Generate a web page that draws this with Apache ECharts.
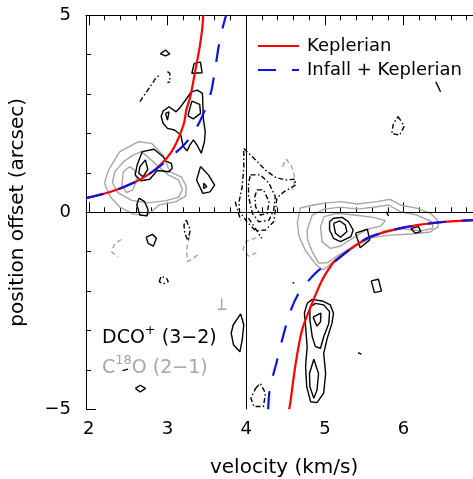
<!DOCTYPE html>
<html>
<head>
<meta charset="utf-8">
<script src="https://cdn.jsdelivr.net/npm/echarts@6/dist/echarts.min.js"></script>
<style>
  html, body { margin: 0; padding: 0; background: #fff; }
  #chart { width: 473px; height: 479px; }
</style>
</head>
<body>
<div id="chart"></div>
<script>
// Position-velocity diagram: DCO+ (3-2) and C18O (2-1) contours with
// Keplerian and infall + Keplerian rotation curves.

const velMin = 1.965, velMax = 7.0;
const tickVelMin = 2, tickVelMax = 7;
const offMin = -5, offMax = 5;
const PX_PER_KMS = 78.7;

// Rotation curves: [velocity km/s, offset arcsec]
const keplerUpper = [[1.965,0.36],[2.28,0.52],[2.57,0.75],[2.78,0.99],[2.91,1.20],[3.04,1.50],[3.12,1.79],[3.21,2.26],[3.24,2.60],[3.29,2.93],[3.355,3.61],[3.41,4.20],[3.44,4.63],[3.455,5.0]];
const keplerLower = [[4.546,-5.0],[4.56,-4.85],[4.63,-3.83],[4.71,-2.99],[4.82,-2.40],[4.966,-1.72],[5.105,-1.28],[5.155,-1.20],[5.32,-0.94],[5.57,-0.63],[5.995,-0.39],[6.42,-0.26],[6.895,-0.195],[7.0,-0.185]];
const infallUpper = [[1.965,0.36],[2.28,0.52],[2.57,0.75],[2.78,0.99],[2.87,1.12],[3.02,1.37],[3.19,1.67],[3.31,1.96],[3.41,2.30],[3.48,2.62],[3.555,3.06],[3.59,3.44],[3.62,3.82],[3.65,4.20],[3.695,4.63],[3.745,5.0]];
const infallLower = [[4.28,-5.0],[4.30,-4.49],[4.385,-3.82],[4.47,-3.14],[4.555,-2.55],[4.66,-2.08],[4.79,-1.74],[4.935,-1.45],[5.06,-1.31],[5.155,-1.20],[5.32,-0.94],[5.57,-0.63],[5.995,-0.39],[6.42,-0.26],[6.895,-0.195],[7.0,-0.185]];

// DCO+ positive contours (closed)
const dcoPos = [
  [[2.68,1.54],[2.83,1.60],[2.945,1.41],[2.98,1.30],[3.05,1.24],[3.06,1.12],[3.02,1.03],[2.87,1.06],[2.775,0.84],[2.66,0.80],[2.59,0.95],[2.615,1.20]],
  [[2.65,1.16],[2.72,1.33],[2.75,1.09],[2.69,0.90],[2.635,0.99]],
  [[2.945,2.57],[3.02,2.68],[3.11,2.55],[3.17,2.68],[3.23,2.85],[3.30,3.05],[3.38,3.10],[3.445,3.02],[3.45,2.72],[3.455,2.39],[3.48,2.05],[3.47,1.79],[3.43,1.50],[3.38,1.69],[3.33,1.84],[3.28,1.69],[3.25,1.56],[3.20,1.67],[3.17,1.96],[3.09,2.09],[3.00,2.13],[2.945,2.26],[2.92,2.43]],
  [[3.26,2.45],[3.31,2.82],[3.41,2.74],[3.42,2.51],[3.33,2.37]],
  [[2.975,2.51],[3.02,2.55],[3.00,2.34]],
  [[3.42,1.16],[3.52,0.95],[3.60,0.69],[3.54,0.52],[3.45,0.48],[3.37,0.82]],
  [[3.46,0.74],[3.50,0.65],[3.46,0.61]],
  [[2.64,0.36],[2.71,0.27],[2.755,0.06],[2.74,-0.09],[2.65,-0.07],[2.61,0.19]],
  [[2.91,4.02],[2.975,4.12],[3.03,4.02],[2.975,3.97]],
  [[3.34,3.78],[3.42,3.81],[3.44,3.54],[3.31,3.53]],
  [[2.73,-0.63],[2.81,-0.56],[2.86,-0.66],[2.82,-0.86],[2.755,-0.79]],
  [[3.93,-2.58],[3.97,-2.86],[3.95,-3.24],[3.92,-3.54],[3.84,-3.37],[3.81,-3.07],[3.835,-2.86]],
  [[5.06,-0.24],[5.11,-0.15],[5.22,-0.13],[5.30,-0.24],[5.36,-0.45],[5.33,-0.62],[5.20,-0.745],[5.11,-0.66],[5.06,-0.45]],
  [[5.11,-0.28],[5.19,-0.22],[5.26,-0.32],[5.28,-0.49],[5.20,-0.635],[5.135,-0.53]],
  [[5.39,-0.53],[5.54,-0.43],[5.57,-0.70],[5.45,-0.90]],
  [[6.09,-0.41],[6.19,-0.365],[6.22,-0.49],[6.15,-0.53]],
  [[5.59,-1.74],[5.68,-1.70],[5.72,-2.0],[5.63,-2.04]],
  [[4.775,-2.31],[4.84,-2.21],[4.965,-2.25],[5.07,-2.35],[5.11,-2.56],[5.09,-2.82],[5.03,-3.20],[4.985,-3.58],[5.01,-4.09],[4.985,-4.59],[4.90,-4.83],[4.82,-4.81],[4.77,-4.43],[4.755,-3.92],[4.775,-3.41],[4.755,-2.90],[4.74,-2.56]],
  [[4.81,-2.41],[4.88,-2.31],[4.985,-2.35],[5.06,-2.52],[5.05,-2.82],[4.985,-3.16],[4.945,-3.45],[4.88,-3.41],[4.84,-3.16],[4.81,-2.73]],
  [[4.86,-3.73],[4.92,-4.09],[4.90,-4.51],[4.86,-4.72],[4.81,-4.43],[4.805,-4.09]],
  [[4.85,-2.66],[4.95,-2.56],[4.945,-2.78],[4.90,-2.89]],
  [[2.593,-4.47],[2.655,-4.39],[2.72,-4.47],[2.655,-4.56]]
];
// DCO+ positive contour fragments (open)
const dcoPosOpen = [
  [[6.41,3.31],[6.47,3.06]],
  [[5.78,0.015],[5.81,-0.09]],
  [[5.42,-3.56],[5.465,-3.60]],
  [[4.59,-1.78],[4.61,-1.80]],
  [[2.43,-4.02],[2.50,-3.98]]
];

// DCO+ negative contours (closed)
const dcoNeg = [
  [[3.97,1.62],[4.12,1.33],[4.245,1.07],[4.37,0.89],[4.50,0.82],[4.62,0.84],[4.63,0.69],[4.48,0.52],[4.39,0.36],[4.37,0.02],[4.35,-0.24],[4.245,-0.45],[4.12,-0.47],[4.01,-0.24],[3.915,0.02],[3.91,0.27],[3.95,0.65],[3.97,1.16]],
  [[4.055,0.95],[4.18,0.95],[4.29,0.74],[4.37,0.40],[4.35,0.06],[4.29,-0.20],[4.16,-0.24],[4.08,-0.03],[4.03,0.40],[4.03,0.74]],
  [[4.14,0.57],[4.22,0.57],[4.29,0.27],[4.27,-0.03],[4.18,-0.07],[4.12,0.14],[4.11,0.40]],
  [[5.93,2.43],[6.01,2.19],[5.95,1.96],[5.85,2.0],[5.87,2.24]],
  [[3.24,-0.195],[3.29,-0.45],[3.26,-0.72],[3.22,-0.53],[3.21,-0.32]],
  [[2.895,-1.76],[2.92,-1.62],[2.99,-1.68],[3.01,-1.76],[2.945,-1.82]],
  [[4.12,-4.47],[4.18,-4.34],[4.245,-4.59],[4.22,-4.93],[4.10,-4.93],[4.06,-4.72]]
];
// DCO+ negative contour fragments (open)
const dcoNegOpen = [
  [[4.03,-0.15],[4.20,-0.66]],
  [[3.86,0.27],[3.93,-0.20]],
  [[3.0,3.57],[3.03,3.53],[3.03,3.31],[3.0,3.29]],
  [[2.65,2.81],[2.75,3.10],[2.85,3.40],[2.89,3.47]]
];

// C18O positive contours (closed)
const c18oPos = [
  [[2.394,1.54],[2.628,1.79],[2.797,1.75],[2.945,1.45],[3.03,1.03],[3.18,0.89],[3.24,0.65],[3.23,0.41],[3.11,0.27],[2.90,0.19],[2.80,0.02],[2.73,-0.09],[2.56,-0.04],[2.39,0.14],[2.27,0.40],[2.20,0.74],[2.25,1.07]],
  [[2.44,1.28],[2.56,1.45],[2.67,1.54],[3.01,0.95],[3.14,0.82],[3.19,0.58],[3.14,0.38],[2.97,0.29],[2.73,0.24],[2.54,0.31],[2.37,0.50],[2.30,0.75],[2.33,1.03]],
  [[2.44,1.03],[2.52,1.16],[2.58,1.07],[2.61,0.82],[2.56,0.57],[2.48,0.50],[2.42,0.69]],
  [[4.65,-0.25],[4.69,0.11],[4.855,0.185],[5.03,0.24],[5.20,0.27],[5.41,0.21],[5.665,0.27],[5.83,0.33],[5.96,0.185],[6.175,0.10],[6.34,-0.025],[6.43,-0.195],[6.44,-0.37],[6.34,-0.50],[6.09,-0.55],[5.83,-0.58],[5.58,-0.65],[5.39,-0.83],[5.20,-1.08],[5.03,-1.39],[4.97,-1.46],[4.88,-1.31],[4.75,-0.96],[4.67,-0.60]],
  [[4.775,-0.45],[4.84,-0.07],[4.99,0.08],[5.20,0.13],[5.41,0.08],[5.665,0.14],[5.81,0.185],[5.96,0.015],[6.17,-0.07],[6.36,-0.24],[6.375,-0.41],[6.215,-0.47],[5.96,-0.41],[5.75,-0.47],[5.54,-0.70],[5.325,-0.91],[5.155,-1.11],[5.03,-1.28],[4.92,-1.29],[4.84,-1.0],[4.78,-0.70]],
  [[4.945,-0.365],[4.99,-0.11],[5.155,-0.025],[5.37,-0.07],[5.62,-0.13],[5.77,-0.21],[5.71,-0.35],[5.54,-0.43],[5.37,-0.635],[5.20,-0.855],[5.07,-0.915],[4.965,-0.745]]
];
// C18O fragments (open)
const c18oPosOpen = [
  [[3.69,-2.18],[3.69,-2.46]],
  [[3.64,-2.46],[3.75,-2.46]]
];
// C18O negative contour fragments (open)
const c18oNegOpen = [
  [[4.46,1.16],[4.51,1.35],[4.58,1.16],[4.62,0.86],[4.59,0.57]],
  [[4.13,-0.65],[4.00,-0.73],[3.96,-0.94],[4.03,-1.11],[4.13,-1.03]],
  [[2.415,-0.69],[2.33,-0.79],[2.29,-1.0],[2.37,-1.13]],
  [[3.28,-0.62],[3.24,-0.96],[3.26,-1.25],[3.39,-1.08]]
];

const xTicks = [2, 3, 4, 5, 6, 7];
const yTicks = [-5, 0, 5];

const FONT = 'DejaVu Sans';
const GREY = '#a6a6a6';
const RED = '#ff0000';
const BLUE = '#0a14e6';

const ring = c => c.concat([c[0]]);

function contourSeries(name, pts, color, dash) {
  return {
    type: 'line', name: name, data: pts, xAxisIndex: 0, yAxisIndex: 0,
    showSymbol: false, symbol: 'none', smooth: false, silent: true,
    lineStyle: { color: color, width: 1.4, type: dash },
    z: 2
  };
}

const series = [];
c18oPos.forEach(c => series.push(contourSeries('C18O', ring(c), GREY, 'solid')));
c18oPosOpen.forEach(c => series.push(contourSeries('C18O', c, GREY, 'solid')));
c18oNegOpen.forEach(c => series.push(contourSeries('C18O neg', c, GREY, [5, 3])));
dcoPos.forEach(c => series.push(contourSeries('DCO+', ring(c), '#000', 'solid')));
dcoPosOpen.forEach(c => series.push(contourSeries('DCO+', c, '#000', 'solid')));
dcoNeg.forEach(c => series.push(contourSeries('DCO+ neg', ring(c), '#000', [5, 2.5, 1.5, 2.5])));
dcoNegOpen.forEach(c => series.push(contourSeries('DCO+ neg', c, '#000', [5, 2.5, 1.5, 2.5])));

// Reference lines at zero offset and systemic velocity
series.push({
  type: 'line', name: 'ref', data: [], xAxisIndex: 0, yAxisIndex: 0, silent: true,
  markLine: {
    silent: true, symbol: ['none', 'none'], label: { show: false },
    lineStyle: { color: '#000', width: 1, type: 'solid' },
    emphasis: { disabled: true },
    data: [{ yAxis: 0 }, { xAxis: 4 }]
  }
});

const redStyle = { color: RED, width: 2.2, type: 'solid' };
const blueStyle = { color: BLUE, width: 2.2, type: [18, 16] };
[keplerUpper, keplerLower].forEach(d => series.push({
  type: 'line', name: 'Keplerian', data: d, showSymbol: false, symbol: 'none',
  smooth: 0.3, lineStyle: redStyle, itemStyle: { color: RED }, z: 5, silent: true
}));
[infallUpper, infallLower].forEach(d => series.push({
  type: 'line', name: 'Infall + Keplerian', data: d, showSymbol: false, symbol: 'none',
  smooth: 0.3, lineStyle: blueStyle, itemStyle: { color: BLUE }, z: 6, silent: true
}));

const tickFont = { fontFamily: FONT, fontSize: 18, color: '#000' };
const plotTop = 15.3, plotHeight = 394, plotLeft = 86;

const option = {
  animation: false,
  backgroundColor: '#fff',
  grid: [
    { left: plotLeft, top: plotTop, width: (velMax - velMin) * PX_PER_KMS, height: plotHeight,
      outerBoundsMode: 'none', containLabel: false },
    { left: plotLeft + (tickVelMin - velMin) * PX_PER_KMS, top: plotTop,
      width: (tickVelMax - tickVelMin) * PX_PER_KMS, height: plotHeight,
      outerBoundsMode: 'none', containLabel: false }
  ],
  legend: {
    data: ['Keplerian', 'Infall + Keplerian'],
    orient: 'vertical', left: 257, top: 36, padding: 0,
    itemWidth: 41, itemHeight: 14, itemGap: 4,
    itemStyle: { opacity: 0 },
    textStyle: { fontFamily: FONT, fontSize: 18, color: '#000', lineHeight: 20, padding: [0, 0, 0, 3] },
    selectedMode: false
  },
  xAxis: [
    { type: 'value', gridIndex: 0, min: velMin, max: velMax, position: 'bottom',
      axisLine: { show: true, lineStyle: { color: '#000', width: 1 } },
      axisTick: { show: false }, axisLabel: { show: false }, splitLine: { show: false },
      name: 'velocity (km/s)', nameLocation: 'middle', nameGap: 48,
      nameTextStyle: { fontFamily: FONT, fontSize: 20, color: '#000' } },
    { type: 'value', gridIndex: 0, min: velMin, max: velMax, position: 'top',
      axisLine: { show: true, lineStyle: { color: '#000', width: 1 } },
      axisTick: { show: false }, axisLabel: { show: false }, splitLine: { show: false } },
    { type: 'value', gridIndex: 1, min: tickVelMin, max: tickVelMax, interval: 1, position: 'bottom',
      axisLine: { show: false },
      axisTick: { show: true, inside: true, length: 10, lineStyle: { color: '#000', width: 1 } },
      minorTick: { show: true, splitNumber: 5, length: 5, lineStyle: { color: '#000', width: 1 } },
      axisLabel: Object.assign({ show: true, margin: 11,
        formatter: v => xTicks.indexOf(v) >= 0 ? String(v) : '' }, tickFont),
      splitLine: { show: false } },
    { type: 'value', gridIndex: 1, min: tickVelMin, max: tickVelMax, interval: 1, position: 'top',
      axisLine: { show: false },
      axisTick: { show: true, inside: true, length: 10, lineStyle: { color: '#000', width: 1 } },
      minorTick: { show: true, splitNumber: 5, length: 5, lineStyle: { color: '#000', width: 1 } },
      axisLabel: { show: false }, splitLine: { show: false } }
  ],
  yAxis: [
    { type: 'value', gridIndex: 0, min: offMin, max: offMax, interval: 5, position: 'left',
      axisLine: { show: true, lineStyle: { color: '#000', width: 1 } },
      axisTick: { show: true, inside: true, length: 10, lineStyle: { color: '#000', width: 1 } },
      minorTick: { show: true, splitNumber: 5, length: 5, lineStyle: { color: '#000', width: 1 } },
      axisLabel: Object.assign({ show: true, margin: 15,
        formatter: v => yTicks.indexOf(v) < 0 ? '' : (v < 0 ? '\u2212' + Math.abs(v) : String(v)) }, tickFont),
      splitLine: { show: false },
      name: 'position offset (arcsec)', nameLocation: 'middle', nameGap: 58, nameRotate: 90,
      nameTextStyle: { fontFamily: FONT, fontSize: 20, color: '#000' } },
    { type: 'value', gridIndex: 1, min: offMin, max: offMax, show: false }
  ],
  graphic: [
    { type: 'text', left: 102, top: 324, silent: true,
      style: { text: '{a|DCO}{s|+}{a| (3\u22122)}', fill: '#000',
        rich: {
          a: { fontFamily: FONT, fontSize: 19, lineHeight: 24, fill: '#000', verticalAlign: 'bottom' },
          s: { fontFamily: FONT, fontSize: 13, lineHeight: 14, fill: '#000', verticalAlign: 'top' }
        } } },
    { type: 'text', left: 102, top: 354, silent: true,
      style: { text: '{a|C}{s|18}{a|O (2\u22121)}', fill: GREY,
        rich: {
          a: { fontFamily: FONT, fontSize: 19, lineHeight: 24, fill: GREY, verticalAlign: 'bottom' },
          s: { fontFamily: FONT, fontSize: 13, lineHeight: 14, fill: GREY, verticalAlign: 'top' }
        } } }
  ],
  series: series
};

const chart = echarts.init(document.getElementById('chart'), null, { renderer: 'canvas' });
chart.setOption(option);
</script>
</body>
</html>
